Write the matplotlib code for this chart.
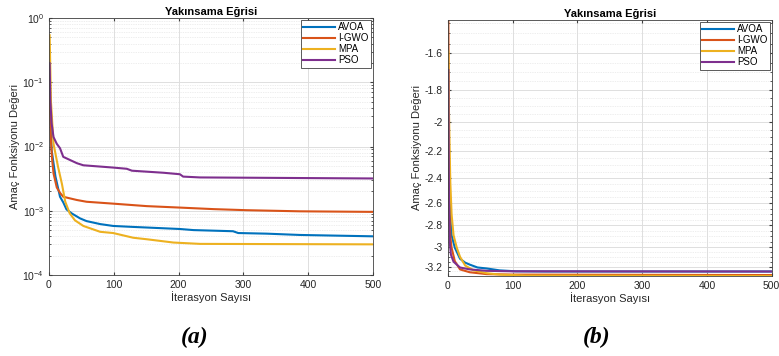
import matplotlib
matplotlib.use("Agg")
import matplotlib.pyplot as plt
import matplotlib.ticker as ticker
import numpy as np

plt.rcParams["font.family"] = ["Liberation Sans", "DejaVu Sans"]
plt.rcParams["axes.unicode_minus"] = False

NAMES  = ["AVOA", "I-GWO", "MPA", "PSO"]
COLORS = ["#0072BD", "#D95319", "#EDB120", "#7E2F8E"]

# (a) log-scale convergence, value vs iteration
A_AVOA_IT  = [1, 2, 4, 10, 17, 22, 27, 35, 48, 58, 79, 99, 130, 202, 223, 284, 292, 336, 387, 500]
A_AVOA_Y   = [0.2, 0.04, 0.0088, 0.0034, 0.00165, 0.00135, 0.00105, 0.00091, 0.00076, 0.00069,
              0.00062, 0.00058, 0.00056, 0.00052, 0.0005, 0.00048, 0.00045, 0.00044, 0.00042, 0.0004]
A_IGWO_IT  = [1, 3, 5, 7, 12, 17, 22, 43, 58, 99, 151, 202, 254, 305, 387, 500]
A_IGWO_Y   = [0.06, 0.012, 0.006, 0.0038, 0.0023, 0.0019, 0.00165, 0.00147, 0.00138, 0.00129,
              0.00118, 0.00112, 0.00106, 0.00102, 0.00098, 0.00096]
A_MPA_IT   = [1, 3, 7, 14, 20, 25, 32, 40, 53, 79, 99, 130, 151, 192, 233, 500]
A_MPA_Y    = [0.54, 0.05, 0.011, 0.0048, 0.0026, 0.00139, 0.00091, 0.00071, 0.00058, 0.00047,
              0.00045, 0.00038, 0.00036, 0.00032, 0.000305, 0.0003]
A_PSO_IT   = [1, 2, 4, 7, 12, 17, 22, 43, 53, 99, 120, 128, 177, 202, 207, 233, 500]
A_PSO_Y    = [0.197, 0.053, 0.023, 0.014, 0.011, 0.0094, 0.0069, 0.0055, 0.0051, 0.0047,
              0.0045, 0.0042, 0.0039, 0.0037, 0.0034, 0.0033, 0.00318]

# (b) negative objective values, value vs iteration
B_AVOA_IT  = [1, 2, 4, 6, 11, 19, 27, 34, 46, 60, 80, 105, 150, 500]
B_AVOA_Y   = [-2.0, -2.4, -2.73, -2.89, -3.01, -3.12, -3.16, -3.18, -3.21, -3.22, -3.24, -3.25, -3.252, -3.252]
B_IGWO_IT  = [1, 2, 3, 4, 6, 11, 19, 34, 60, 100, 500]
B_IGWO_Y   = [-1.43, -2.3, -2.75, -2.9, -3.01, -3.145, -3.23, -3.26, -3.28, -3.285, -3.29]
B_MPA_IT   = [1, 2, 4, 6, 9, 14, 19, 27, 40, 60, 80, 120, 500]
B_MPA_Y    = [-1.59, -1.95, -2.43, -2.70, -2.89, -3.01, -3.10, -3.19, -3.24, -3.27, -3.285, -3.295, -3.30]
B_PSO_IT   = [1, 2, 3, 5, 9, 19, 34, 60, 100, 500]
B_PSO_Y    = [-1.69, -2.6, -2.95, -3.08, -3.15, -3.21, -3.23, -3.245, -3.25, -3.252]

SERIES_A = [(A_AVOA_IT, A_AVOA_Y), (A_IGWO_IT, A_IGWO_Y), (A_MPA_IT, A_MPA_Y), (A_PSO_IT, A_PSO_Y)]
SERIES_B = [(B_AVOA_IT, B_AVOA_Y), (B_IGWO_IT, B_IGWO_Y), (B_MPA_IT, B_MPA_Y), (B_PSO_IT, B_PSO_Y)]

TXT = "#262626"
GRID = "#dedede"


def style_axes(ax):
    ax.set_xlim(0, 500)
    ax.set_xticks([0, 100, 200, 300, 400, 500])
    ax.tick_params(which="both", direction="in", top=True, right=True,
                   labelsize=7.5, colors="#404040", labelcolor=TXT, length=2.5)
    ax.tick_params(which="minor", length=1.5)
    ax.grid(True, which="major", color=GRID, linewidth=0.7)
    ax.grid(True, which="minor", axis="y", color=GRID, linewidth=0.5, linestyle=(0, (1, 1.5)))
    for sp in ax.spines.values():
        sp.set_color("#404040")
        sp.set_linewidth(0.6)
    ax.set_axisbelow(True)
    ax.set_title("Yakınsama Eğrisi", fontsize=8, fontweight="bold", color="black", pad=2)
    ax.set_xlabel("İterasyon Sayısı", fontsize=8, color=TXT, labelpad=1)
    ax.set_ylabel("Amaç Fonksiyonu Değeri", fontsize=8, color=TXT, labelpad=2)
    ax.legend(loc="upper right", fontsize=7, handlelength=3.3, handletextpad=0.3,
              borderpad=0.25, labelspacing=0.1, fancybox=False, framealpha=1,
              edgecolor="#404040", borderaxespad=0.2).get_frame().set_linewidth(0.6)


fig = plt.figure(figsize=(7.79, 3.56), dpi=100)

ax1 = fig.add_axes([49 / 779, 81 / 356, 324 / 779, 257 / 356])
for (it, y), name, c in zip(SERIES_A, NAMES, COLORS):
    ax1.plot(it, y, color=c, linewidth=1.5, label=name)
ax1.set_yscale("log")
ax1.set_ylim(1e-4, 1e0)
ax1.yaxis.set_major_locator(ticker.LogLocator(base=10, numticks=10))
ax1.yaxis.set_minor_locator(ticker.LogLocator(base=10, subs=np.arange(2, 10), numticks=20))
ax1.yaxis.set_minor_formatter(ticker.NullFormatter())
style_axes(ax1)

ax2 = fig.add_axes([447.7 / 779, 80 / 356, 324 / 779, 256 / 356])
for (it, y), name, c in zip(SERIES_B, NAMES, COLORS):
    ax2.plot(it, y, color=c, linewidth=1.5, label=name)
ax2.set_yscale("function", functions=(lambda v: -np.log10(np.abs(v)),
                                      lambda z: -10.0 ** (-z)))
ax2.set_ylim(-3.30, -1.436)
ax2.set_yticks([-1.6, -1.8, -2.0, -2.2, -2.4, -2.6, -2.8, -3.0, -3.2])
ax2.yaxis.set_major_formatter(ticker.FormatStrFormatter("%g"))
ax2.set_yticks(np.arange(-3.25, -1.44, 0.05), minor=True)
ax2.yaxis.set_minor_formatter(ticker.NullFormatter())
style_axes(ax2)

for label, xc in (("(a)", 195), ("(b)", 597)):
    fig.text(xc / 779, 1 - 337 / 356, label, fontsize=17, fontweight="bold", fontstyle="italic",
             family=["Liberation Serif", "DejaVu Serif"], ha="center", va="center")

fig.savefig("out.png", dpi=100)
